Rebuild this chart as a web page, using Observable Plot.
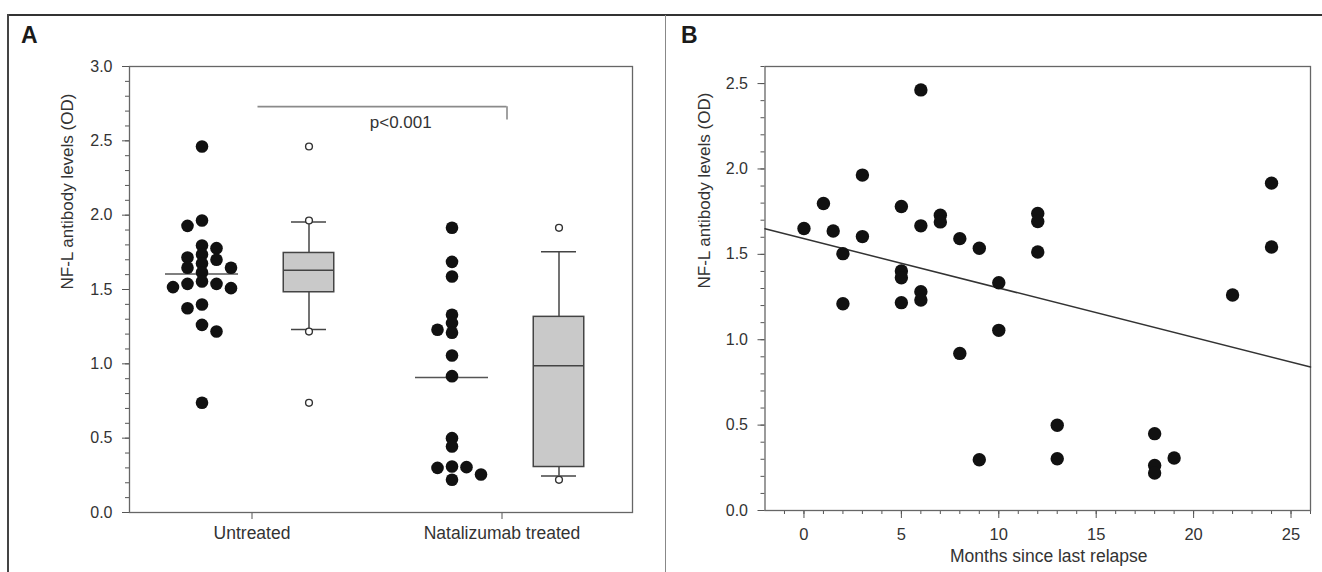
<!DOCTYPE html>
<html><head><meta charset="utf-8">
<script src="https://cdn.jsdelivr.net/npm/d3@7"></script>
<script src="https://cdn.jsdelivr.net/npm/@observablehq/plot@0.6"></script>
<style>
html,body{margin:0;padding:0;background:#fff;}
#wrap{position:relative;width:1322px;height:572px;overflow:hidden;font-family:"Liberation Sans",Arial,sans-serif;}
.bl{position:absolute;}
.panel{position:absolute;top:0;}
.tag{position:absolute;font:bold 23px/23px "Liberation Sans",Arial,sans-serif;color:#1a1a1a;}
</style></head><body>
<div id="wrap">
  <div class="bl" style="left:7px;top:14px;width:1315px;height:1.5px;background:#333"></div>
  <div class="bl" style="left:7px;top:14px;width:1.5px;height:558px;background:#444"></div>
  <div class="bl" style="left:665px;top:15px;width:1px;height:557px;background:#888"></div>
  <div class="tag" style="left:21px;top:24px">A</div>
  <div class="tag" style="left:681px;top:24px">B</div>
  <div id="pa" class="panel" style="left:0"></div>
  <div id="pb" class="panel" style="left:666px"></div>
</div>
<script>
// ---------- DATA ----------
const categories = ["Untreated", "Natalizumab treated"];
const untreated = [2.462, 1.964, 1.928, 1.796, 1.778, 1.735, 1.715, 1.700, 1.675, 1.646, 1.646,
  1.614, 1.554, 1.538, 1.538, 1.516, 1.509, 1.399, 1.374, 1.262, 1.217, 0.738];
const natalizumab = [1.915, 1.686, 1.587, 1.330, 1.274, 1.229, 1.209, 1.056, 0.917, 0.500, 0.444,
  0.309, 0.305, 0.300, 0.256, 0.220];
const yTicksA = [0, 0.5, 1.0, 1.5, 2.0, 2.5, 3.0];
const pLabel = "p<0.001";
const bracketY = 2.73;
const yLabel = "NF-L antibody levels (OD)";

const months = [0, 1, 1.5, 2, 2, 3, 3, 5, 5, 5, 5, 6, 6, 6, 6, 7, 7, 8, 8, 9, 9, 10, 10,
  12, 12, 12, 13, 13, 18, 18, 18, 19, 22, 24, 24];
const nfl = [1.651, 1.798, 1.637, 1.504, 1.211, 1.964, 1.604, 1.780, 1.403, 1.363, 1.217,
  2.463, 1.667, 1.281, 1.232, 1.729, 1.690, 1.592, 0.920, 1.536, 0.297, 1.334, 1.055,
  1.739, 1.692, 1.514, 0.499, 0.303, 0.450, 0.264, 0.219, 0.307, 1.262, 1.917, 1.543];
const fitIntercept = 1.592;
const fitSlope = -0.0289;
const xTicksB = [0, 5, 10, 15, 20, 25];
const yTicksB = [0, 0.5, 1.0, 1.5, 2.0, 2.5];
const xLabelB = "Months since last relapse";

// ---------- helpers ----------
const FONT = "Liberation Sans, Arial, Helvetica, sans-serif";
const groups = [untreated, natalizumab];

function q6(sorted, p) { // percentile, (n+1)p method
  const n = sorted.length, h = (n + 1) * p;
  if (h <= 1) return sorted[0];
  if (h >= n) return sorted[n - 1];
  const lo = Math.floor(h);
  return sorted[lo - 1] + (h - lo) * (sorted[lo] - sorted[lo - 1]);
}
function jitterCols(values, gap) {
  const order = d3.range(values.length).sort((a, b) => values[b] - values[a]);
  const placed = [], cols = new Array(values.length);
  let last = 1;
  for (const i of order) {
    const v = values[i];
    const s = last > 0 ? -1 : 1;
    const cands = [0];
    for (let k = 1; k <= 5; k++) cands.push(s * k, -s * k);
    let chosen = 0;
    for (const c of cands) {
      if (!placed.some(p => p.col === c && Math.abs(p.v - v) < gap)) { chosen = c; break; }
    }
    placed.push({col: chosen, v});
    cols[i] = chosen;
    if (chosen !== 0) last = chosen;
  }
  return cols;
}

const DOT_OFF = -0.2, BOX_OFF = 0.228, COL_STEP = 0.058;
const dots = [];
groups.forEach((vals, gi) => {
  const cols = jitterCols(vals, 0.055);
  vals.forEach((v, j) => dots.push({x: gi + DOT_OFF + cols[j] * COL_STEP, v}));
});
const means = groups.map((vals, gi) => ({c: gi + DOT_OFF, m: d3.mean(vals)}));
const stats = groups.map((vals, gi) => {
  const s = vals.slice().sort(d3.ascending);
  return {c: gi + BOX_OFF, q10: q6(s, 0.1), q25: q6(s, 0.25), q50: q6(s, 0.5), q75: q6(s, 0.75), q90: q6(s, 0.9)};
});
const outliers = [];
groups.forEach((vals, gi) => vals.forEach(v => {
  if (v > stats[gi].q90 || v < stats[gi].q10) outliers.push({x: gi + BOX_OFF, v});
}));

const TXT = "#333", AX = "#555";

// ---------- PANEL A ----------
const plotA = Plot.plot({
  width: 660, height: 572,
  marginLeft: 129, marginRight: 28, marginTop: 66, marginBottom: 60,
  style: {background: "transparent", fontFamily: FONT, fontSize: "16px", color: TXT, overflow: "visible"},
  x: {domain: [-0.49, 1.522], label: null},
  y: {domain: [0, 3], label: null},
  marks: [
    Plot.axisY({ticks: d3.range(0, 3.001, 0.1), tickSize: 4, tickFormat: () => "", label: null, stroke: AX}),
    Plot.axisY({ticks: yTicksA, tickSize: 7, tickPadding: 10, tickFormat: d3.format(".1f"), label: null, stroke: AX, fill: TXT, fontSize: 16}),
    Plot.axisX({ticks: [0, 1], tickSize: 7, tickPadding: 7, tickFormat: i => categories[i], label: null, stroke: AX, fill: TXT, fontSize: 17.5}),
    Plot.frame({stroke: "#666", strokeWidth: 1.3}),
    // significance bracket
    Plot.ruleY([bracketY], {x1: 0.024, x2: 1.02, stroke: "#8a8a8a", strokeWidth: 1.6}),
    Plot.ruleX([1.02], {y1: bracketY, y2: bracketY - 0.09, stroke: "#8a8a8a", strokeWidth: 1.6}),
    Plot.text([pLabel], {x: 0.595, y: bracketY, dy: 16, fill: TXT, fontSize: 17}),
    // mean lines
    Plot.ruleY(means, {y: "m", x1: d => d.c - 0.146, x2: d => d.c + 0.146, stroke: "#555", strokeWidth: 1.6}),
    // raw dots
    Plot.dot(dots, {x: "x", y: "v", r: 6.3, fill: "#111"}),
    // box plots
    Plot.ruleX(stats, {x: "c", y1: "q75", y2: "q90", stroke: "#444", strokeWidth: 1.5}),
    Plot.ruleX(stats, {x: "c", y1: "q10", y2: "q25", stroke: "#444", strokeWidth: 1.5}),
    Plot.ruleY(stats, {y: "q90", x1: d => d.c - 0.07, x2: d => d.c + 0.07, stroke: "#444", strokeWidth: 1.5}),
    Plot.ruleY(stats, {y: "q10", x1: d => d.c - 0.07, x2: d => d.c + 0.07, stroke: "#444", strokeWidth: 1.5}),
    Plot.rect(stats, {x1: d => d.c - 0.101, x2: d => d.c + 0.101, y1: "q25", y2: "q75", fill: "#c9c9c9", stroke: "#444", strokeWidth: 1.5}),
    Plot.ruleY(stats, {y: "q50", x1: d => d.c - 0.101, x2: d => d.c + 0.101, stroke: "#444", strokeWidth: 1.5}),
    Plot.dot(outliers, {x: "x", y: "v", r: 3.4, fill: "white", stroke: "#333", strokeWidth: 1.4}),
    Plot.text([yLabel], {frameAnchor: "left", rotate: -90, dx: -62, fill: TXT, fontSize: 17})
  ]
});
document.getElementById("pa").appendChild(plotA);

// ---------- PANEL B ----------
const ptsB = months.map((m, i) => ({m, v: nfl[i]}));
const xDomB = [-2, 26];
const fitLine = xDomB.map(m => ({m, v: fitIntercept + fitSlope * m}));
const plotB = Plot.plot({
  width: 656, height: 572,
  marginLeft: 98.5, marginRight: 12, marginTop: 66, marginBottom: 62,
  style: {background: "transparent", fontFamily: FONT, fontSize: "16px", color: TXT, overflow: "visible"},
  x: {domain: xDomB, label: null},
  y: {domain: [0, 2.6], label: null},
  marks: [
    Plot.axisY({ticks: d3.range(0, 2.601, 0.1), tickSize: 4, tickFormat: () => "", label: null, stroke: AX}),
    Plot.axisY({ticks: yTicksB, tickSize: 7, tickPadding: 10, tickFormat: d3.format(".1f"), label: null, stroke: AX, fill: TXT, fontSize: 16}),
    Plot.axisX({ticks: d3.range(-1, 26.001, 1), tickSize: 4, tickFormat: () => "", label: null, stroke: AX}),
    Plot.axisX({ticks: xTicksB, tickSize: 8, tickPadding: 10, label: null, stroke: AX, fill: TXT, fontSize: 16.5}),
    Plot.frame({stroke: "#666", strokeWidth: 1.3}),
    Plot.line(fitLine, {x: "m", y: "v", stroke: "#333", strokeWidth: 1.5}),
    Plot.dot(ptsB, {x: "m", y: "v", r: 6.7, fill: "#111"}),
    Plot.text([yLabel], {frameAnchor: "left", rotate: -90, dx: -60, fill: TXT, fontSize: 17}),
    Plot.text([xLabelB], {frameAnchor: "bottom", dy: 51, dx: 11, fill: TXT, fontSize: 17.5})
  ]
});
document.getElementById("pb").appendChild(plotB);
</script>
</body></html>
